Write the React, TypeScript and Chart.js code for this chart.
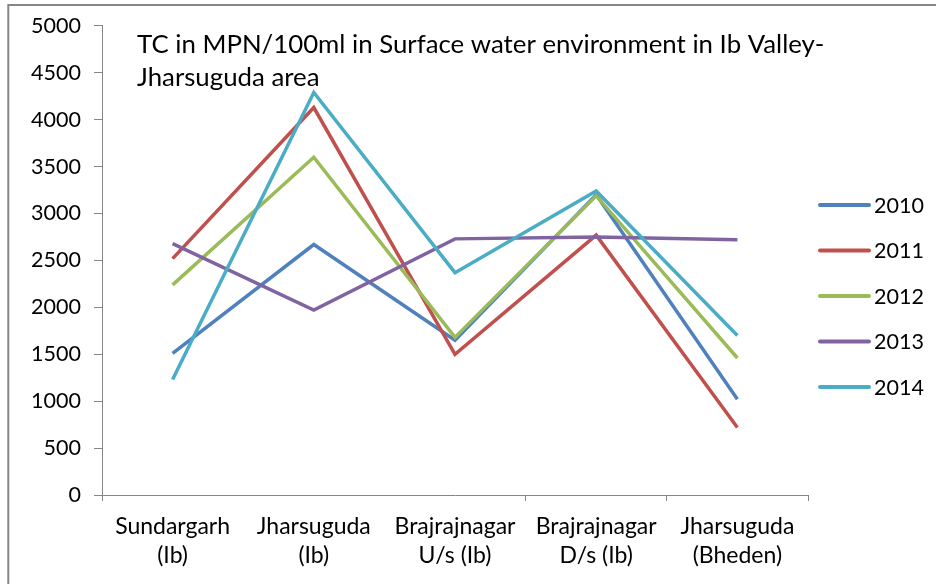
import React, { useEffect, useRef } from 'react';
import { Chart, registerables } from 'chart.js';

Chart.register(...registerables);

const categories: string[][] = [
  ['Sundargarh', '(Ib)'],
  ['Jharsuguda', '(Ib)'],
  ['Brajrajnagar', 'U/s (Ib)'],
  ['Brajrajnagar', 'D/s (Ib)'],
  ['Jharsuguda', '(Bheden)'],
];

const seriesNames = ['2010', '2011', '2012', '2013', '2014'];

const values2010 = [1510, 2670, 1650, 3200, 1020];
const values2011 = [2520, 4130, 1500, 2770, 720];
const values2012 = [2240, 3600, 1680, 3190, 1460];
const values2013 = [2680, 1970, 2730, 2750, 2720];
const values2014 = [1230, 4290, 2370, 3240, 1700];

const seriesColors = ['#4F81BD', '#C0504D', '#9BBB59', '#8064A2', '#4BACC6'];

const titleLines = [
  'TC in MPN/100ml in Surface water environment in Ib Valley-',
  'Jharsuguda area',
];

const yMin = 0;
const yMax = 5000;
const yStep = 500;

const FONT = 'Lato, "Open Sans", sans-serif';
const AXIS_GRAY = '#868686';

export default function App() {
  const canvasRef = useRef<HTMLCanvasElement | null>(null);

  useEffect(() => {
    if (!canvasRef.current) return;
    const allValues = [values2010, values2011, values2012, values2013, values2014];

    const decorPlugin = {
      id: 'decor',
      beforeDraw(chart: any) {
        const ctx = chart.ctx;
        ctx.save();
        ctx.fillStyle = '#ffffff';
        ctx.fillRect(0, 0, chart.width, chart.height);
        ctx.strokeStyle = AXIS_GRAY;
        ctx.lineWidth = 2;
        ctx.beginPath();
        ctx.moveTo(8.3, chart.height);
        ctx.lineTo(8.3, 5);
        ctx.lineTo(chart.width, 5);
        ctx.stroke();
        ctx.restore();
      },
      afterDraw(chart: any) {
        const ctx = chart.ctx;
        ctx.save();
        // title
        ctx.fillStyle = '#000000';
        ctx.font = `25.8px ${FONT}`;
        ctx.textAlign = 'left';
        ctx.textBaseline = 'alphabetic';
        titleLines.forEach((line, i) => {
          ctx.fillText(line, 137, 53 + i * 33);
        });
        // legend
        ctx.font = `21.5px ${FONT}`;
        ctx.textBaseline = 'middle';
        chart.data.datasets.forEach((ds: any, i: number) => {
          const y = 205 + i * 45.5;
          ctx.strokeStyle = ds.borderColor;
          ctx.lineWidth = 4;
          ctx.lineCap = 'round';
          ctx.beginPath();
          ctx.moveTo(820, y);
          ctx.lineTo(869, y);
          ctx.stroke();
          ctx.fillStyle = '#000000';
          ctx.fillText(ds.label, 874, y + 1);
        });
        ctx.restore();
      },
    };

    const chart = new Chart(canvasRef.current, {
      type: 'line',
      data: {
        labels: categories,
        datasets: seriesNames.map((name, i) => ({
          label: name,
          data: allValues[i],
          borderColor: seriesColors[i],
          backgroundColor: seriesColors[i],
          borderWidth: 3.5,
          pointRadius: 0,
          pointHoverRadius: 0,
          tension: 0,
          fill: false,
          order: seriesNames.length - i,
        })),
      },
      options: {
        animation: false,
        responsive: false,
        maintainAspectRatio: false,
        layout: { padding: { left: 0, top: 25, right: 128, bottom: 0 } },
        plugins: {
          legend: { display: false },
          title: { display: false },
          tooltip: { enabled: false },
        },
        scales: {
          x: {
            type: 'category',
            offset: true,
            afterFit(scale: any) {
              scale.height = 89;
            },
            grid: {
              offset: true,
              drawOnChartArea: false,
              drawTicks: true,
              tickLength: 6,
              color: (ctx: any) => (ctx.index === 1 || ctx.index === 2 ? 'rgba(0,0,0,0)' : AXIS_GRAY),
              lineWidth: 1,
            },
            border: { display: true, color: AXIS_GRAY, width: 1 },
            ticks: {
              color: '#000000',
              font: { family: FONT, size: 23, lineHeight: 29 / 23 },
              padding: 11,
              maxRotation: 0,
              autoSkip: false,
            },
          },
          y: {
            min: yMin,
            max: yMax,
            afterFit(scale: any) {
              scale.width = 102;
            },
            grid: {
              drawOnChartArea: false,
              drawTicks: true,
              tickLength: 8,
              color: AXIS_GRAY,
              lineWidth: 1,
            },
            border: { display: true, color: AXIS_GRAY, width: 1 },
            ticks: {
              stepSize: yStep,
              color: '#000000',
              font: { family: FONT, size: 21.5 },
              padding: 13,
              callback: (v: any) => String(v),
            },
          },
        },
      },
      plugins: [decorPlugin],
    });

    return () => {
      chart.destroy();
    };
  }, []);

  return (
    <div style={{ position: 'absolute', left: 0, top: 0, width: 936, height: 584, background: '#fff' }}>
      <canvas ref={canvasRef} width={936} height={584} style={{ display: 'block' }} />
    </div>
  );
}
